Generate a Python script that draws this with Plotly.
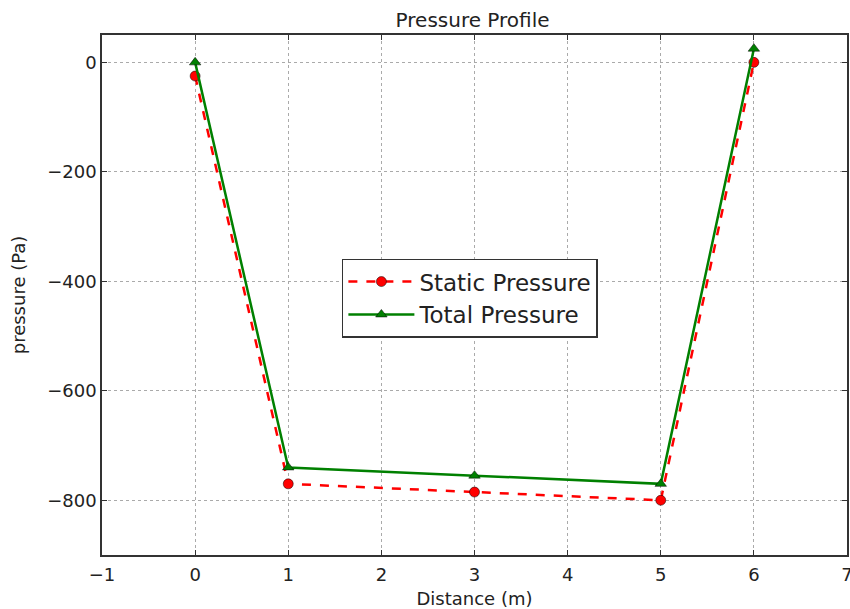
import plotly.graph_objects as go

distance = [0, 1, 3, 5, 6]
static_pressure = [-25, -770, -785, -800, 0]
total_pressure = [0, -740, -755, -770, 25]

x_ticks = [-1, 0, 1, 2, 3, 4, 5, 6, 7]
y_ticks = [0, -200, -400, -600, -800]

FONT = "DejaVu Sans"

fig = go.Figure()
fig.add_trace(go.Scatter(
    x=distance, y=static_pressure, name="Static Pressure", mode="lines+markers",
    line=dict(color="red", width=2.5, dash="dash"),
    marker=dict(symbol="circle", size=10, color="red", line=dict(color="black", width=0.5)),
))
fig.add_trace(go.Scatter(
    x=distance, y=total_pressure, name="Total Pressure", mode="lines+markers",
    line=dict(color="green", width=2.5),
    marker=dict(symbol="triangle-up", size=10, color="green", line=dict(color="black", width=0.5)),
))

axis_common = dict(
    showline=True, linecolor="#333", linewidth=1.5, mirror="ticks",
    ticks="inside", ticklen=5, tickcolor="#333",
    showgrid=True, gridcolor="#aaa", griddash="dot", gridwidth=1,
    zeroline=False, automargin=False, ticklabeloverflow="allow",
    tickfont=dict(family=FONT, size=18, color="#222"),
)

fig.update_layout(
    width=850, height=609,
    paper_bgcolor="white", plot_bgcolor="white",
    margin=dict(l=102, r=3, t=35, b=54),
    title=dict(text="Pressure Profile", x=0.556, xanchor="center", y=0.967, yanchor="middle",
               font=dict(family=FONT, size=20, color="#222")),
    xaxis=dict(range=[-1, 7], tickvals=x_ticks, ticktext=[str(v).replace("-", "\u2212") for v in x_ticks],
               ticklabelstandoff=3,
               title=dict(text="Distance (m)", font=dict(family=FONT, size=18, color="#222"), standoff=8),
               **axis_common),
    yaxis=dict(range=[-900, 50], tickvals=y_ticks, ticktext=[str(v).replace("-", "\u2212") for v in y_ticks],
               title=dict(text="pressure (Pa)", font=dict(family=FONT, size=18, color="#222"), standoff=17),
               **axis_common),
    legend=dict(x=0.322, y=0.57, xanchor="left", yanchor="top",
                bgcolor="white", bordercolor="#333", borderwidth=1.5,
                font=dict(family=FONT, size=23, color="#222"),
                itemwidth=66, tracegroupgap=0, entrywidth=200, entrywidthmode="pixels"),
    showlegend=True,
)

fig.write_html("out.html", config={"displayModeBar": False},
               post_script="document.body.style.margin='0px';")
